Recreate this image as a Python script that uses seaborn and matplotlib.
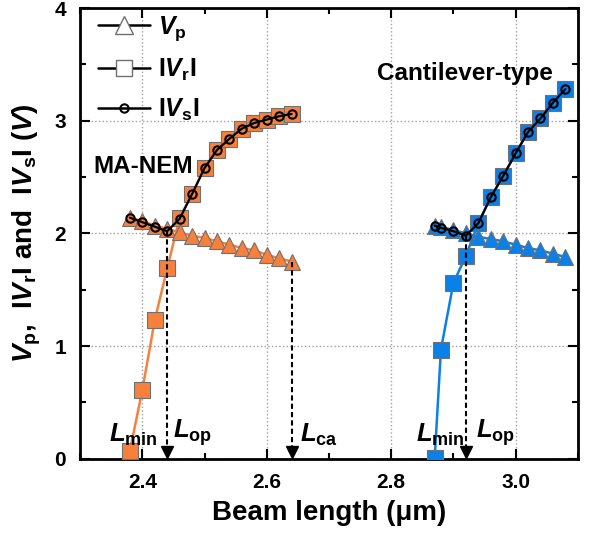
import numpy as np
import matplotlib
matplotlib.use('Agg')
import matplotlib.pyplot as plt
from matplotlib.lines import Line2D
from matplotlib.ticker import MultipleLocator
import seaborn as sns

# MA-NEM device
ma_length = [2.38, 2.40, 2.42, 2.44, 2.46, 2.48, 2.50, 2.52, 2.54, 2.56, 2.58, 2.60, 2.62, 2.64]
ma_vp = [2.14, 2.11, 2.07, 2.04, 2.01, 1.98, 1.96, 1.93, 1.90, 1.87, 1.85, 1.81, 1.78, 1.75]
ma_vr = [0.07, 0.61, 1.23, 1.69, 2.14, 2.35, 2.58, 2.74, 2.84, 2.93, 2.98, 3.01, 3.04, 3.06]
ma_vs = [2.14, 2.10, 2.06, 2.02, 2.13, 2.35, 2.58, 2.74, 2.84, 2.93, 2.98, 3.01, 3.04, 3.06]

# cantilever-type device
ct_length = [2.87, 2.88, 2.90, 2.92, 2.94, 2.96, 2.98, 3.00, 3.02, 3.04, 3.06, 3.08]
ct_vp = [2.07, 2.06, 2.03, 2.00, 1.97, 1.95, 1.93, 1.90, 1.87, 1.85, 1.82, 1.79]
ct_vr = [0.01, 0.97, 1.56, 1.80, 2.09, 2.32, 2.51, 2.71, 2.90, 3.02, 3.16, 3.28]
ct_vs = [2.07, 2.05, 2.02, 1.98, 2.09, 2.32, 2.51, 2.71, 2.90, 3.02, 3.16, 3.28]

orange = '#F7803C'
blue = '#0A80E8'

sns.set_style('ticks')
plt.rcParams['font.family'] = ['Liberation Sans', 'DejaVu Sans']
plt.rcParams['font.weight'] = 'bold'
plt.rcParams['text.color'] = 'black'
plt.rcParams['axes.labelcolor'] = 'black'
plt.rcParams['xtick.color'] = 'black'
plt.rcParams['ytick.color'] = 'black'
plt.rcParams['mathtext.fontset'] = 'custom'
plt.rcParams['mathtext.rm'] = 'Liberation Sans:bold'
plt.rcParams['mathtext.bf'] = 'Liberation Sans:bold'
plt.rcParams['mathtext.it'] = 'Liberation Sans:bold:italic'

fig = plt.figure(figsize=(5.89, 5.36), dpi=100)
ax = fig.add_axes([0.136, 0.144, 0.845, 0.841])

for xs, vp, vr, vs, col in [(ma_length, ma_vp, ma_vr, ma_vs, orange),
                            (ct_length, ct_vp, ct_vr, ct_vs, blue)]:
    sns.lineplot(x=xs, y=vr, ax=ax, color=col, lw=1.8, marker='s', markersize=11,
                 markerfacecolor=col, markeredgecolor='#707070', markeredgewidth=0.8,
                 sort=False, zorder=3)
    sns.lineplot(x=xs, y=vp, ax=ax, color=col, lw=1.8, marker='^', markersize=11.5,
                 markerfacecolor=col, markeredgecolor='#707070', markeredgewidth=0.8,
                 sort=False, zorder=4)
    sns.lineplot(x=xs, y=vs, ax=ax, color='black', lw=1.6, marker='o', markersize=6,
                 markerfacecolor='none', markeredgecolor='black', markeredgewidth=1.5,
                 sort=False, zorder=5)

# dashed arrows marking L_op and L_ca
ma_op = int(np.argmin(ma_vs))
ct_op = int(np.argmin(ct_vs))
arrows = [(ma_length[ma_op], ma_vs[ma_op]), (ma_length[-1], ma_vp[-1]),
          (ct_length[ct_op], ct_vs[ct_op])]
for xa, ya in arrows:
    ax.plot([xa, xa], [ya, 0.08], color='black', lw=1.5, ls=(0, (2.5, 1.5)), zorder=6)
    ax.plot([xa], [0.06], marker='v', color='black', markersize=9, zorder=6)

txt = dict(fontsize=18.5, fontweight='bold', va='bottom', ha='left')
ax.text(2.346, 0.10, r'$L_{\mathrm{min}}$', **txt)
ax.text(2.449, 0.10, r'$L_{\mathrm{op}}$', **txt)
ax.text(2.653, 0.10, r'$L_{\mathrm{ca}}$', **txt)
ax.text(2.840, 0.10, r'$L_{\mathrm{min}}$', **txt)
ax.text(2.937, 0.10, r'$L_{\mathrm{op}}$', **txt)
ax.text(2.322, 2.59, 'MA-NEM', fontsize=17.5, fontweight='bold', va='center', ha='left')
ax.text(2.777, 3.42, 'Cantilever-type', fontsize=17.5, fontweight='bold', va='center', ha='left')

ax.set_xlim(2.3, 3.1)
ax.set_ylim(0, 4)
ax.xaxis.set_major_locator(MultipleLocator(0.2))
ax.xaxis.set_minor_locator(MultipleLocator(0.1))
ax.yaxis.set_major_locator(MultipleLocator(1))
ax.yaxis.set_minor_locator(MultipleLocator(0.5))
ax.set_xticks([2.4, 2.6, 2.8, 3.0])
ax.set_xticklabels(['2.4', '2.6', '2.8', '3.0'])
ax.set_yticks([0, 1, 2, 3, 4])
ax.set_yticklabels(['0', '1', '2', '3', '4'])
ax.tick_params(which='both', direction='in', top=True, right=True, width=1.5,
               labelsize=15, pad=10, colors='black')
ax.tick_params(which='major', length=7)
ax.tick_params(which='minor', length=4)
ax.grid(True, which='major', ls=':', color='#a0a0a0', lw=1)
for sp in ax.spines.values():
    sp.set_linewidth(2)
    sp.set_color('black')

ax.set_xlabel('Beam length (\u03bcm)', fontsize=20, fontweight='bold', labelpad=6)
ax.set_ylabel(r'$V_{\mathrm{p}}$,  I$V_{\mathrm{r}}$I and  I$V_{\mathrm{s}}$I ($V$)',
              fontsize=20, fontweight='bold', labelpad=8)

handles = [
    Line2D([], [], color='black', lw=1.8, marker='^', markersize=13,
           markerfacecolor='white', markeredgecolor='#707070'),
    Line2D([], [], color='black', lw=1.8, marker='s', markersize=12,
           markerfacecolor='white', markeredgecolor='#707070'),
    Line2D([], [], color='black', lw=1.8, marker='o', markersize=6,
           markerfacecolor='none', markeredgecolor='black', markeredgewidth=1.5),
]
labels = [r'$V_{\mathrm{p}}$', r'I$V_{\mathrm{r}}$I', r'I$V_{\mathrm{s}}$I']
ax.legend(handles, labels, loc='upper left', bbox_to_anchor=(0.0, 1.025), frameon=False,
          fontsize=18, handlelength=2.1, labelspacing=0.55, borderaxespad=0.3,
          handletextpad=0.3)

fig.savefig('out.png', dpi=100)
